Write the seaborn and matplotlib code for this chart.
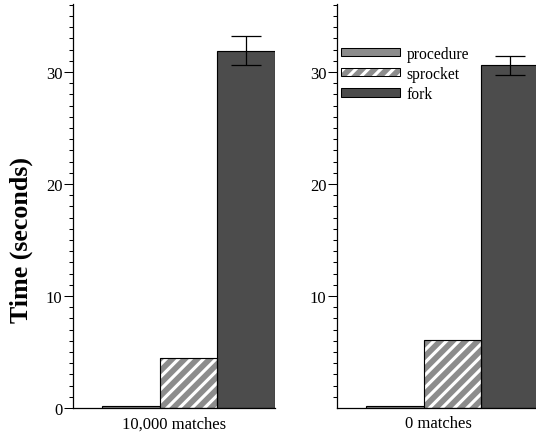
import numpy as np
import pandas as pd
import matplotlib
matplotlib.use('Agg')
import matplotlib.pyplot as plt
import matplotlib.patches as mpatches
from matplotlib.ticker import MultipleLocator, FixedLocator
import seaborn as sns

# values
panels = ['10,000 matches', '0 matches']
impls = ['procedure', 'sprocket', 'fork']
times_10k = [0.2, 4.5, 31.9]
errs_10k = [0.0, 0.0, 1.3]
times_0 = [0.15, 6.1, 30.6]
errs_0 = [0.0, 0.0, 0.85]

colors = {'procedure': '#8c8c8c', 'sprocket': '#8c8c8c', 'fork': '#4c4c4c'}

df = pd.DataFrame({
    'panel': [panels[0]] * 3 + [panels[1]] * 3,
    'impl': impls * 2,
    'time': times_10k + times_0,
    'err': errs_10k + errs_0,
})

sns.set_style('ticks')
plt.rcParams['font.family'] = ['Liberation Serif', 'DejaVu Serif']
plt.rcParams['hatch.linewidth'] = 3.0
plt.rcParams['hatch.color'] = 'white'
for k in ['text.color', 'axes.labelcolor', 'xtick.color', 'ytick.color', 'axes.edgecolor']:
    plt.rcParams[k] = 'black'

DPI = 75
fig = plt.figure(figsize=(536 / DPI, 440 / DPI), dpi=DPI)
ax1 = fig.add_axes([73 / 536, 31 / 440, 202 / 536, 404 / 440])
ax2 = fig.add_axes([337 / 536, 31 / 440, 202 / 536, 404 / 440])

for ax, p in zip([ax1, ax2], panels):
    sub = df[df.panel == p]
    sns.barplot(data=sub, x='panel', y='time', hue='impl', hue_order=impls,
                palette=colors, saturation=1, edgecolor='black', linewidth=1.1,
                errorbar=None, legend=False, ax=ax)
    # sprocket: white stripes on gray, black outline drawn on top
    for bar in ax.containers[1]:
        bar.set_edgecolor('white')
        bar.set_linewidth(0)
        bar.set_hatch('//')
        ax.add_patch(mpatches.Rectangle(bar.get_xy(), bar.get_width(), bar.get_height(),
                                        fill=False, edgecolor='black', lw=1.1, zorder=bar.get_zorder() + 0.1))
    for i, imp in enumerate(impls):
        row = sub[sub.impl == imp].iloc[0]
        if row.err > 0:
            bar = ax.containers[i][0]
            ax.errorbar(bar.get_x() + bar.get_width() / 2, row.time, yerr=row.err,
                        fmt='none', ecolor='black', elinewidth=1.2, capsize=14, capthick=1.2, zorder=5)
    ax.set_xlim(-0.534, 0.4)
    ax.set_ylim(0, 36.07)
    ax.set_xticks([])
    ax.set_xlabel(p, fontsize=16, labelpad=7)
    ax.set_ylabel('')
    sns.despine(ax=ax)
    ax.spines['left'].set_linewidth(1.2)
    ax.spines['bottom'].set_linewidth(1.2)
    ax.tick_params(axis='y', which='major', length=8.6, width=1, pad=1.5, labelsize=16, direction='out')
    ax.tick_params(axis='y', which='minor', length=3.5, width=1, direction='out')

ax1.set_yticks([0, 10, 20, 30])
ax1.yaxis.set_minor_locator(MultipleLocator(1))
ax2.set_yticks([10, 20, 30])
ax2.yaxis.set_minor_locator(FixedLocator(np.arange(1, 37)))

ax1.set_ylabel('Time (seconds)', fontsize=25, fontweight='bold')
ax1.yaxis.set_label_coords(-0.258, 0.418)
ax1.yaxis.label.set_va('center')

handles = [
    mpatches.Patch(facecolor=colors['procedure'], edgecolor='black', lw=1),
    (mpatches.Patch(facecolor=colors['sprocket'], edgecolor='white', lw=0, hatch='//'),
     mpatches.Patch(fill=False, edgecolor='black', lw=1)),
    mpatches.Patch(facecolor=colors['fork'], edgecolor='black', lw=1),
]
ax2.legend(handles, impls, loc='upper left', bbox_to_anchor=(0.02, 0.897), frameon=False,
           fontsize=15, handlelength=3.75, handleheight=0.45, handletextpad=0.45,
           labelspacing=0.27, borderpad=0, borderaxespad=0)

fig.savefig('out.png', dpi=DPI)
